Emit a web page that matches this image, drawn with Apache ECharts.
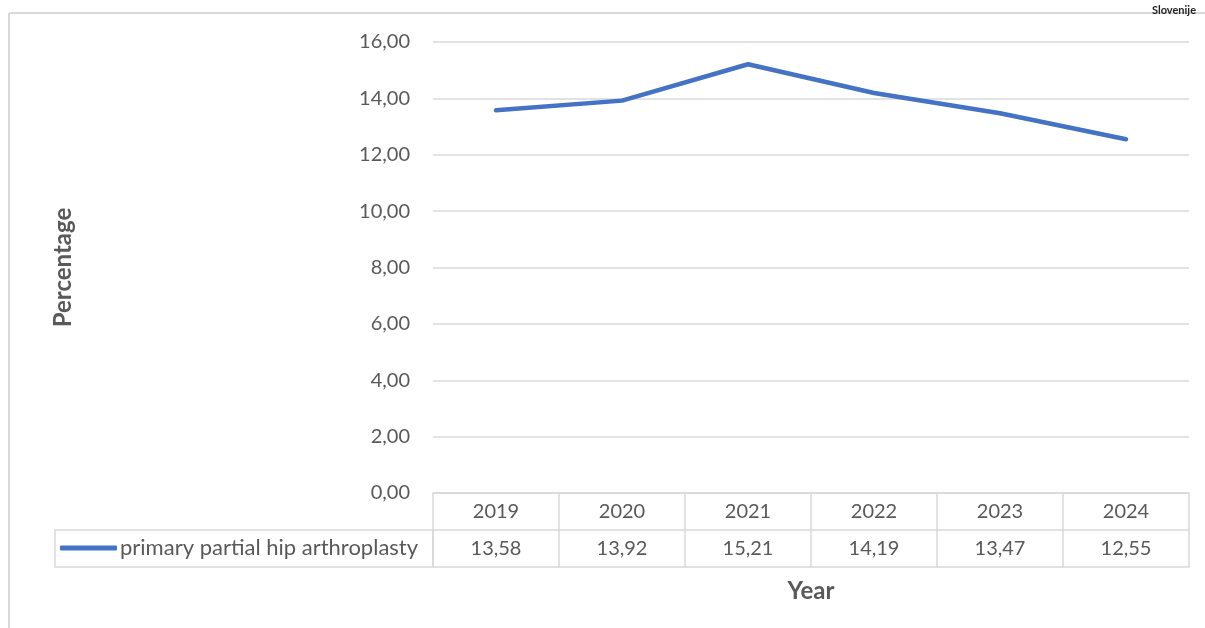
<!DOCTYPE html>
<html>
<head>
<meta charset="utf-8">
<script src="https://cdn.jsdelivr.net/npm/echarts@6/dist/echarts.min.js"></script>
<style>
  html, body { margin: 0; padding: 0; background: #fff; }
  #chart { width: 1205px; height: 628px; }
</style>
</head>
<body>
<div id="chart"></div>
<script>
var years = ['2019', '2020', '2021', '2022', '2023', '2024'];
var values = [13.58, 13.92, 15.21, 14.19, 13.47, 12.55];
var seriesName = 'primary partial hip arthroplasty';

var font = 'Lato, "Open Sans", sans-serif';
var textColor = '#595959';
var lineColor = '#d9d9d9';

function comma(v, d) {
    return v.toFixed(d).replace('.', ',');
}

var myChart = echarts.init(document.getElementById('chart'));

var option = {
    animation: false,
    textStyle: { fontFamily: font },
    title: {
        text: 'Slovenije',
        right: 4,
        top: 0,
        textStyle: { fontSize: 11, fontWeight: 'bold', color: '#222', fontFamily: font }
    },
    grid: {
        left: 433,
        right: 16,
        top: 42,
        bottom: 135
    },
    legend: {
        left: 60,
        top: 537,
        padding: 0,
        icon: 'roundRect',
        itemWidth: 57,
        itemHeight: 5,
        itemGap: 0,
        textStyle: { fontSize: 22, color: textColor, fontFamily: font, padding: [0, 0, 0, -2] },
        data: [seriesName]
    },
    graphic: [
        { type: 'line', shape: { x1: 9, y1: 13, x2: 1205, y2: 13 }, style: { stroke: lineColor, lineWidth: 2 } },
        { type: 'line', shape: { x1: 9, y1: 13, x2: 9, y2: 628 }, style: { stroke: lineColor, lineWidth: 2 } },
        { type: 'rect', shape: { x: 55, y: 530, width: 378, height: 37 }, style: { fill: null, stroke: lineColor, lineWidth: 1.5 }, z: -1 }
    ],
    xAxis: [{
        type: 'category',
        data: years,
        boundaryGap: true,
        axisLine: { show: true, lineStyle: { color: lineColor, width: 1.5 } },
        axisTick: { show: true, length: 74, lineStyle: { color: lineColor, width: 1.5 } },
        axisLabel: {
            margin: 0,
            formatter: function (val, idx) {
                return '{y|' + val + '}\n{v|' + comma(values[idx], 2) + '}';
            },
            rich: {
                y: { fontSize: 20, color: textColor, lineHeight: 37, fontFamily: font },
                v: { fontSize: 20, color: textColor, lineHeight: 37, fontFamily: font }
            }
        }
    }, {
        type: 'category',
        data: years,
        position: 'bottom',
        offset: 37,
        axisLine: { show: true, lineStyle: { color: lineColor, width: 1.5 } },
        axisTick: { show: false },
        axisLabel: { show: false }
    }, {
        type: 'category',
        data: years,
        position: 'bottom',
        offset: 74,
        name: 'Year',
        nameLocation: 'middle',
        nameGap: 12,
        nameTextStyle: { fontSize: 24, fontWeight: 'bold', color: textColor, fontFamily: font },
        axisLine: { show: true, lineStyle: { color: lineColor, width: 1.5 } },
        axisTick: { show: false },
        axisLabel: { show: false }
    }],
    yAxis: {
        type: 'value',
        min: 0,
        max: 16,
        interval: 2,
        name: 'Percentage',
        nameLocation: 'middle',
        nameGap: 358,
        nameTextStyle: { fontSize: 24, fontWeight: 'bold', color: textColor, fontFamily: font },
        axisLine: { show: false },
        axisTick: { show: false },
        axisLabel: {
            margin: 23,
            fontSize: 20,
            color: textColor,
            fontFamily: font,
            formatter: function (v) { return comma(v, 2); }
        },
        splitLine: { lineStyle: { color: lineColor, width: 1.5 } }
    },
    series: [{
        name: seriesName,
        type: 'line',
        data: values,
        showSymbol: false,
        symbol: 'none',
        itemStyle: { color: '#4472C4' },
        lineStyle: { color: '#4472C4', width: 4.5, cap: 'round', join: 'round' }
    }]
};

myChart.setOption(option);
</script>
</body>
</html>
